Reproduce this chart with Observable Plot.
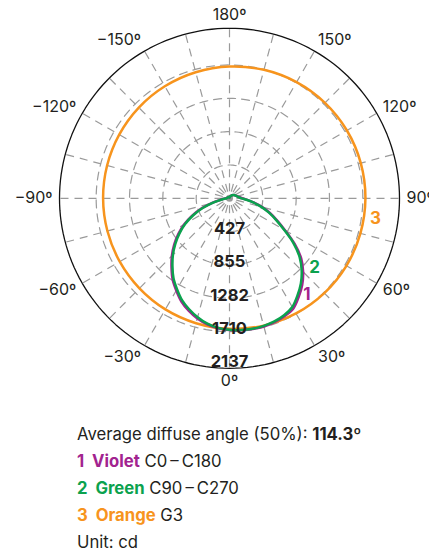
<!DOCTYPE html>
<html><head><meta charset="utf-8">
<script src="https://cdn.jsdelivr.net/npm/d3@7"></script>
<script src="https://cdn.jsdelivr.net/npm/@observablehq/plot@0.6"></script>
<style>
body{margin:0;background:#fff;font-family:Inter,"Noto Sans",sans-serif;color:#231f20;}
#chart svg{display:block;overflow:visible}
#legend{padding:26px 0 0 77px;font-size:16.7px;line-height:27px;}
#legend b{font-weight:700}
</style></head><body>
<div id="chart"></div>
<div id="legend"></div>
<script>
// Luminous intensity (cd), angle 0 = straight down
const lobeAngles = [-180,-170,-160,-150,-140,-130,-120,-110,-100,-90,-85,-80,-75,-70,-65,-60,-55,-50,-45,-40,-35,-30,-25,-20,-15,-10,-5,0,5,10,15,20,25,30,35,40,45,50,55,60,65,70,75,80,85,90,100,110,120,130,140,150,160,170];
const violetValues = [9,10,13,15,18,21,23,26,32,44,75,130,236,385,532,673,802,926,1045,1157,1271,1365,1460,1532,1594,1640,1672,1690,1699,1702,1702,1690,1668,1634,1546,1450,1335,1200,1020,824,675,552,435,320,228,162,115,91,77,64,51,38,26,15];
const greenValues  = [9,10,13,15,18,21,23,26,30,38,64,115,218,366,513,654,783,907,1026,1138,1252,1346,1441,1514,1578,1633,1668,1687,1696,1699,1694,1681,1655,1610,1520,1424,1309,1174,1001,808,661,539,423,308,218,154,112,90,77,64,51,38,26,15];
const orangeAngles = [-180,-165,-150,-135,-120,-105,-90,-75,-60,-45,-30,-15,0,15,30,45,60,75,90,105,120,135,150,165];
const orangeValues = [1690,1674,1659,1645,1633,1625,1621,1621,1625,1633,1645,1658,1674,1690,1705,1719,1731,1738,1743,1743,1739,1731,1720,1706];

const ringValues = [427,855,1282,1710];
const ringLabels = [427,855,1282,1710,2137];
const outerValue = 2180;
const angleTicks = [-150,-120,-90,-60,-30,0,30,60,90,120,150,180];
const spokeAngles = [-180,-165,-150,-135,-120,-105,-90,-75,-60,-45,-30,-15,0,15,30,45,60,75,90,105,120,135,150,165];

const curveLabelText = ["1","2","3"];
const curveLabelAngle = [39,51,82];
const curveLabelValue = [1580,1406,1891];

const seriesNames = ["Violet","Green","Orange"];
const seriesColors = ["#a2238f","#0ba24e","#f7941d"];

const rad = a => a*Math.PI/180;
const px = (a,v) => v*Math.sin(rad(a));
const py = (a,v) => -v*Math.cos(rad(a));

const curve = (name, angles, values) => angles.map((a,i)=>({series:name, angle:a, value:values[i]}));
const violet = curve("Violet", lobeAngles, violetValues);
const green = curve("Green", lobeAngles, greenValues);
const orange = curve("Orange", orangeAngles, orangeValues);

const circleAngles = d3.range(0, 360, 2);
const rings = ringValues.flatMap(v => circleAngles.map(a => ({ring:v, angle:a, value:v})));
const outer = circleAngles.map(a => ({angle:a, value:outerValue}));

const labR = 2270, labRy = 2347;
const tickRows = angleTicks.map(a => ({angle:a, label:(a<0?"\u2212"+(-a):String(a))+"\u00ba"}));
const lx = d => labR*Math.sin(rad(d.angle));
const ly = d => -labRy*Math.cos(rad(d.angle));

const curveLabels = curveLabelText.map((t,i)=>({text:t, angle:curveLabelAngle[i], value:curveLabelValue[i], color:seriesColors[i]}));

const X = d => px(d.angle, d.value), Y = d => py(d.angle, d.value);

const chart = Plot.plot({
  width: 429, height: 395,
  marginLeft: 59, marginRight: 30, marginTop: 27.8, marginBottom: 27.2,
  x: {domain: [-outerValue, outerValue], axis: null},
  y: {domain: [-outerValue, outerValue], axis: null},
  style: {fontFamily: "Inter, sans-serif", overflow: "visible", background: "#fff"},
  marks: [
    Plot.link(spokeAngles, {x1: 0, y1: 0, x2: a => px(a, outerValue), y2: a => py(a, outerValue),
      stroke: "#9a9a9a", strokeWidth: 1.2, strokeDasharray: "8,6", strokeDashoffset: 7}),
    Plot.line(rings, {x: X, y: Y, z: "ring", curve: "linear-closed", stroke: "#9a9a9a", strokeWidth: 1.2, strokeDasharray: "8,6"}),
    Plot.line(outer, {x: X, y: Y, curve: "linear-closed", stroke: "#111", strokeWidth: 1.3}),
    Plot.dot([0], {x: 0, y: 0, r: 3.5, fill: "#999"}),
    Plot.line(orange, {x: X, y: Y, curve: "catmull-rom-closed", stroke: seriesColors[2], strokeWidth: 2.5}),
    Plot.line(violet, {x: X, y: Y, curve: "catmull-rom-closed", stroke: seriesColors[0], strokeWidth: 2.5}),
    Plot.line(green, {x: X, y: Y, curve: "catmull-rom-closed", stroke: seriesColors[1], strokeWidth: 2.5}),
    Plot.text(ringLabels, {x: 0, y: v => -v, text: v => String(v), dy: -3, fontWeight: 700, fontSize: 16.5, fill: "#231f20"}),
    Plot.text(curveLabels, {x: X, y: Y, text: "text", fill: "color", fontWeight: 700, fontSize: 17}),
    Plot.text(tickRows.filter(d => d.angle > 0 && d.angle < 180), {x: lx, y: ly, text: "label", textAnchor: "start", fontSize: 16, fill: "#231f20"}),
    Plot.text(tickRows.filter(d => d.angle < 0), {x: lx, y: ly, text: "label", textAnchor: "end", fontSize: 16, fill: "#231f20"}),
    Plot.text(tickRows.filter(d => d.angle === 0 || d.angle === 180), {x: lx, y: ly, text: "label", textAnchor: "middle", fontSize: 16, fill: "#231f20"})
  ]
});
document.getElementById("chart").append(chart);

const legendRows = [
  `Average diffuse angle (50%): <b>114.3\u00ba</b>`,
  `<b style="color:${seriesColors[0]}">1&nbsp; ${seriesNames[0]}</b> C0\u2009\u2013\u2009C180`,
  `<b style="color:${seriesColors[1]}">2&nbsp; ${seriesNames[1]}</b> C90\u2009\u2013\u2009C270`,
  `<b style="color:${seriesColors[2]}">3&nbsp; ${seriesNames[2]}</b> G3`,
  `Unit: cd`
];
document.getElementById("legend").innerHTML = legendRows.map(r => `<div>${r}</div>`).join("");
</script>
</body></html>
